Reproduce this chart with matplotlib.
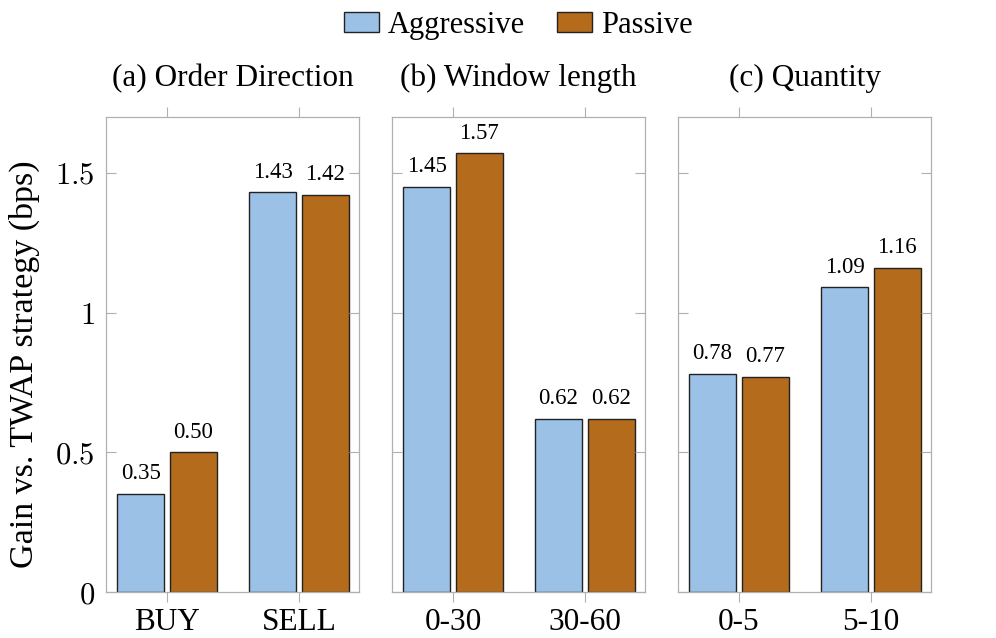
import numpy as np
import matplotlib
matplotlib.use("Agg")
import matplotlib.pyplot as plt
from matplotlib.patches import Patch

plt.rcParams['font.family'] = ['Liberation Serif', 'DejaVu Serif']
plt.rcParams['mathtext.fontset'] = 'cm'

# data
titles = ["(a) Order Direction", "(b) Window length", "(c) Quantity"]
categories = [["BUY", "SELL"], ["0-30", "30-60"], ["0-5", "5-10"]]
aggressive = [[0.35, 1.43], [1.45, 0.62], [0.78, 1.09]]
passive = [[0.50, 1.42], [1.57, 0.62], [0.77, 1.16]]
series_names = ["Aggressive", "Passive"]
yticks = [0, 0.5, 1, 1.5]
ytick_labels = ["$0$", "$0.5$", "$1$", "$1.5$"]

blue = "#9bc2e6"
orange = "#b46c1c"
frame_gray = "#b0b0b0"

fig = plt.figure(figsize=(9.96, 6.38), dpi=100)
lefts = [106, 392, 678]
bar_w = 0.356
off = 0.2

for i in range(3):
    ax = fig.add_axes([lefts[i] / 996, 46 / 638, 253 / 996, 475 / 638])
    x = np.arange(len(categories[i]))
    b1 = ax.bar(x - off, aggressive[i], bar_w, color=blue, edgecolor="#222222", linewidth=1.0)
    b2 = ax.bar(x + off, passive[i], bar_w, color=orange, edgecolor="#222222", linewidth=1.0)
    for bars, vals in ((b1, aggressive[i]), (b2, passive[i])):
        for rect, v in zip(bars, vals):
            ax.text(rect.get_x() + rect.get_width() / 2, v + 0.035, f"{v:.2f}",
                    ha="center", va="bottom", fontsize=16.5)
    ax.set_xlim(-0.462, 1.455)
    ax.set_ylim(0, 1.7)
    ax.set_xticks(x)
    ax.set_xticklabels(categories[i], fontsize=22.5)
    ax.set_yticks(yticks)
    if i == 0:
        ax.set_yticklabels(ytick_labels, fontsize=22)
        ax.set_ylabel("Gain vs. TWAP strategy (bps)", fontsize=24.5)
        ax.yaxis.set_label_coords(-0.26, 0.48)
    else:
        ax.set_yticklabels([])
    ax.tick_params(axis="x", direction="out", length=7.5, width=0.8, color=frame_gray,
                   top=True, bottom=True, pad=4)
    ax.tick_params(axis="y", direction="in", length=7.5, width=0.8, color=frame_gray,
                   left=True, right=True, pad=8)
    for sp in ax.spines.values():
        sp.set_color(frame_gray)
        sp.set_linewidth(0.9)
    ax.set_title(titles[i], fontsize=22.5, pad=22)

handles = [Patch(facecolor=blue, edgecolor="#222222", linewidth=1.0),
           Patch(facecolor=orange, edgecolor="#222222", linewidth=1.0)]
fig.legend(handles, series_names, loc="upper center", bbox_to_anchor=(0.5205, 1.026),
           ncol=2, frameon=False, fontsize=22, handlelength=1.15, handleheight=0.6,
           handletextpad=0.3, columnspacing=1.05)

fig.savefig("out.png", dpi=100)
